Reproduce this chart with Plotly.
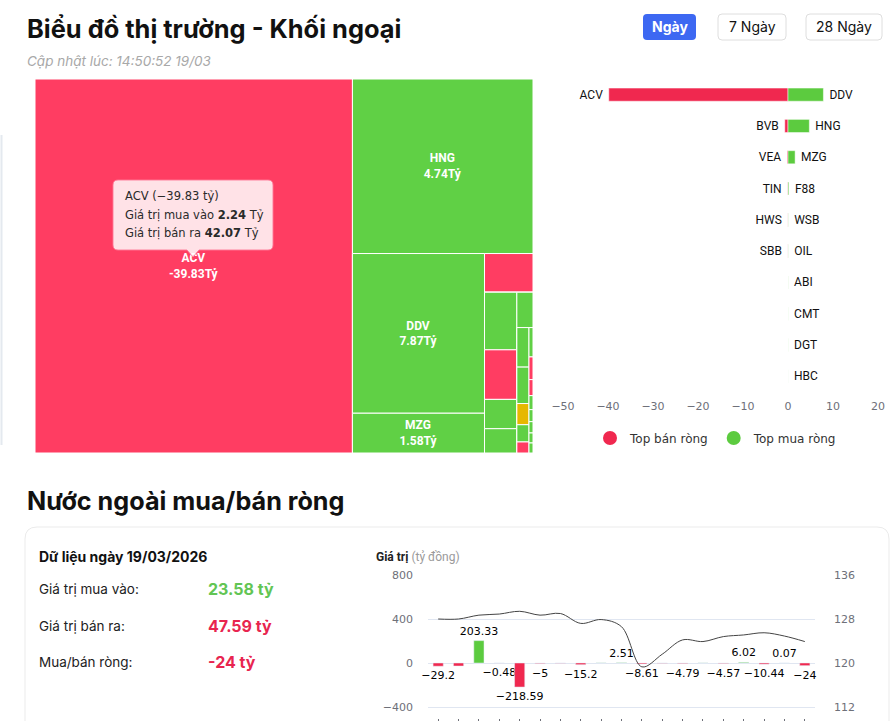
import plotly.graph_objects as go

W, H = 892, 721


def px(x):
    return x / W


def py(y):
    return 1 - y / H


# ---------------- data: treemap (size = buy + sell, tỷ) ----------------
tm_ids = ["root", "ACV", "g1", "HNG", "g2", "g3", "DDV", "MZG", "g4", "BVB", "g5",
          "g6", "F88", "VEA", "WSB", "OIL", "g7", "ABI", "g8", "g9", "CMT", "DGT",
          "VEF", "HBC", "TIN", "g10", "VGT", "HWS", "SBB", "QNS", "BSR", "MSR", "ACG", "NTC"]
tm_parents = ["", "root", "root", "g1", "g1", "g2", "g3", "g3", "g2", "g4", "g4",
              "g5", "g6", "g6", "g6", "g6", "g5", "g7", "g7", "g8", "g9", "g9",
              "g9", "g9", "g9", "g8", "g10", "g10", "g10", "g10", "g10", "g10", "g10", "g10"]
tm_size = [0, 44.31, 0, 11.76, 0, 0, 7.87, 1.96, 0, 0.70, 0,
           0, 0.695, 0.598, 0.354, 0.293, 0, 0.213, 0, 0, 0.179, 0.165,
           0.096, 0.078, 0.050, 0, 0.044, 0.034, 0.024, 0.021, 0.018, 0.017, 0.015, 0.015]
tm_net = [None, -39.83, None, 4.74, None, None, 7.87, 1.58, None, -0.72, None,
          None, 0.2, -0.2, 0.05, 0.04, None, 0.03, None, None, 0.02, 0.02,
          0.0, 0.01, -0.08, None, 0.01, -0.04, -0.03, 0.01, 0.01, 0.01, 0.01, 0.01]

acv_buy, acv_sell = 2.24, 42.07

# ---------------- data: top net sell / net buy bars ----------------
sell_names = ["ACV", "BVB", "VEA", "TIN", "HWS", "SBB"]
sell_vals = [-39.83, -0.72, -0.2, -0.08, -0.04, -0.03]
buy_names = ["DDV", "HNG", "MZG", "F88", "WSB", "OIL", "ABI", "CMT", "DGT", "HBC"]
buy_vals = [7.87, 4.74, 1.58, 0.2, 0.05, 0.04, 0.03, 0.02, 0.02, 0.01]

# ---------------- data: daily net flow ----------------
summary_date = "19/03/2026"
total_buy, total_sell, total_net = 23.58, 47.59, -24
days = ["23/02", "24/02", "25/02", "26/02", "27/02", "02/03", "03/03", "04/03", "05/03",
        "06/03", "09/03", "10/03", "11/03", "12/03", "13/03", "16/03", "17/03", "18/03", "19/03"]
net_flow = [-29.2, -27.5, 203.33, -0.48, -218.59, -5, -1.85, -15.2, 1.2,
            2.51, -8.61, -2.3, -4.79, 0.9, -4.57, 6.02, -10.44, 0.07, -24]
label_shown = [1, 0, 1, 1, 1, 1, 0, 1, 0, 1, 1, 0, 1, 0, 1, 1, 1, 1, 1]
index_line = [128.0, 128.0, 128.7, 128.9, 129.4, 128.7, 129.0, 127.2, 127.9,
              126.6, 119.3, 121.6, 124.2, 123.9, 124.8, 125.1, 125.5, 124.9, 123.9]

RED_TM, GREEN_TM, YELLOW_TM = "#ff3d62", "#60d045", "#e6b800"
RED, GREEN = "#f0284f", "#5ccb3f"


def fmt(v):
    return ("%g" % v).replace("-", "−")


fig = go.Figure()

# ---------------- treemap ----------------
tm_colors = [("white" if n is None else (RED_TM if n < 0 else (GREEN_TM if n > 0 else YELLOW_TM)))
             for n in tm_net]
tm_text = [("%s<br>%sTỷ" % (i, ("%g" % n))) if (n is not None and s >= 1) else ""
           for i, n, s in zip(tm_ids, tm_net, tm_size)]

fig.add_trace(go.Treemap(
    ids=tm_ids, labels=tm_ids, parents=tm_parents, values=tm_size,
    branchvalues="remainder", sort=False,
    tiling=dict(packing="slice-dice", pad=0),
    marker=dict(colors=tm_colors, line=dict(color="white", width=1),
                pad=dict(t=0, l=0, r=0, b=0)),
    text=tm_text, textinfo="text", textposition="middle center",
    textfont=dict(family="Roboto", size=12, color="white", weight="bold"),
    pathbar=dict(visible=False), hoverinfo="skip",
    domain=dict(x=[px(35), px(533)], y=[py(453), py(79)]),
))

# ---------------- top bars ----------------
for vals, names, col, pad in ((sell_vals, sell_names, RED, "%s "), (buy_vals, buy_names, GREEN, " %s")):
    fig.add_trace(go.Bar(
        x=vals, y=list(range(len(vals))), orientation="h",
        marker=dict(color=col, line=dict(color="white", width=0.5)), width=0.42,
        text=[pad % n for n in names], textposition="outside", cliponaxis=False, constraintext="none",
        textfont=dict(family="Roboto", size=12, color="#111"),
        showlegend=False, hoverinfo="skip", xaxis="x", yaxis="y"))
fig.add_trace(go.Scatter(x=[None], y=[None], mode="markers", name="Top bán ròng",
                         marker=dict(color=RED, size=14, symbol="circle"), xaxis="x", yaxis="y"))
fig.add_trace(go.Scatter(x=[None], y=[None], mode="markers", name="Top mua ròng",
                         marker=dict(color=GREEN, size=14, symbol="circle"), xaxis="x", yaxis="y"))

# ---------------- bottom chart ----------------
fig.add_trace(go.Bar(
    x=days, y=net_flow, marker=dict(color=[GREEN if v > 0 else RED for v in net_flow]),
    width=0.5, text=[fmt(v) if s else "" for v, s in zip(net_flow, label_shown)],
    textposition="outside", cliponaxis=False, constraintext="none",
    textfont=dict(family="DejaVu Sans", size=11, color="#000"),
    showlegend=False, hoverinfo="skip", xaxis="x2", yaxis="y2"))
fig.add_trace(go.Scatter(
    x=days, y=index_line, mode="lines", line=dict(color="#444", width=1, shape="spline", smoothing=1),
    showlegend=False, hoverinfo="skip", xaxis="x2", yaxis="y3"))

# ---------------- shapes ----------------


def rrect(x0, y0, x1, y1, r):
    X0, X1, Y0, Y1 = px(x0), px(x1), py(y0), py(y1)
    rx, ry = r / W, r / H
    return (f"M {X0+rx},{Y0} L {X1-rx},{Y0} Q {X1},{Y0} {X1},{Y0-ry} L {X1},{Y1+ry} "
            f"Q {X1},{Y1} {X1-rx},{Y1} L {X0+rx},{Y1} Q {X0},{Y1} {X0},{Y1+ry} "
            f"L {X0},{Y0-ry} Q {X0},{Y0} {X0+rx},{Y0} Z")


def tooltip_path(x0, y0, x1, y1, r, tipx, tiph):
    X0, X1, Y0, Y1 = px(x0), px(x1), py(y0), py(y1)
    rx, ry = r / W, r / H
    return (f"M {X0+rx},{Y0} L {X1-rx},{Y0} Q {X1},{Y0} {X1},{Y0-ry} L {X1},{Y1+ry} "
            f"Q {X1},{Y1} {X1-rx},{Y1} L {px(tipx+6)},{Y1} L {px(tipx)},{py(y1+tiph)} "
            f"L {px(tipx-6)},{Y1} L {X0+rx},{Y1} Q {X0},{Y1} {X0},{Y1+ry} "
            f"L {X0},{Y0-ry} Q {X0},{Y0} {X0+rx},{Y0} Z")


P = dict(xref="paper", yref="paper", type="path")
shapes = [
    dict(P, path=rrect(643, 14, 696, 40, 4), fillcolor="#3d68f2", line=dict(width=0), layer="below"),
    dict(P, path=rrect(718, 14, 786, 40, 4), fillcolor="white", line=dict(color="#dedede", width=1), layer="below"),
    dict(P, path=rrect(806, 14, 882, 40, 4), fillcolor="white", line=dict(color="#dedede", width=1), layer="below"),
    dict(P, path=rrect(25, 527, 889, 790, 12), fillcolor="white", line=dict(color="#ebebeb", width=1), layer="below"),
    dict(P, path=tooltip_path(113, 180, 273, 250, 5, 193, 7),
         fillcolor="rgba(255,255,255,0.85)", line=dict(color="rgba(255,120,150,0.9)", width=1), layer="above"),
    dict(type="line", xref="paper", yref="paper", x0=px(1.5), x1=px(1.5), y0=py(135), y1=py(445),
         line=dict(color="#e4e9ef", width=2), layer="below"),
]

ann = []


def text(x, y, t, size, color="#111", family="Inter", xanchor="left", weight="normal", style="normal"):
    ann.append(dict(x=px(x), y=py(y), xref="paper", yref="paper", text=t, showarrow=False,
                    xanchor=xanchor, yanchor="middle",
                    font=dict(family=family, size=size, color=color, weight=weight, style=style)))


text(25, 29, "Biểu đồ thị trường - Khối ngoại", 25.4, "#111", weight="bold")
text(25, 61, "Cập nhật lúc: 14:50:52 19/03", 13.5, "#a8a8a8", style="italic")
text(669.5, 27, "Ngày", 14, "white", xanchor="center", weight="bold")
text(752, 27, "7 Ngày", 14, "#111", xanchor="center")
text(844, 27, "28 Ngày", 14, "#111", xanchor="center")
text(123, 196, "ACV (%s tỷ)" % fmt(-39.83), 11.5, "#2a2a2a", family="DejaVu Sans")
text(123, 215, "Giá trị mua vào <b>%g</b> Tỷ" % acv_buy, 11.5, "#2a2a2a", family="DejaVu Sans")
text(123, 233, "Giá trị bán ra <b>%g</b> Tỷ" % acv_sell, 11.5, "#2a2a2a", family="DejaVu Sans")
text(25, 501, "Nước ngoài mua/bán ròng", 25.2, "#111", weight="bold")
text(37, 556, "Dữ liệu ngày %s" % summary_date, 14, "#111", weight="bold")
text(37, 589, "Giá trị mua vào:", 13.5, "#222")
text(37, 626, "Giá trị bán ra:", 13.5, "#222")
text(37, 662, "Mua/bán ròng:", 13.5, "#222")
text(206, 589, "%g tỷ" % total_buy, 16, "#62c554", weight="bold")
text(206, 626, "%g tỷ" % total_sell, 16, "#e8254f", weight="bold")
text(206, 662, "%g tỷ" % total_net, 16, "#e8254f", weight="bold")
text(374, 557, "<b>Giá trị</b> <span style='color:#9a9a9a'>(tỷ đồng)</span>", 12, "#222", family="Roboto")

fig.update_layout(
    width=W, height=H, margin=dict(l=0, r=0, t=0, b=0, autoexpand=False),
    paper_bgcolor="white", plot_bgcolor="rgba(0,0,0,0)",
    barmode="overlay", shapes=shapes, annotations=ann,
    legend=dict(orientation="h", x=px(716), y=py(438), xanchor="center", yanchor="middle",
                font=dict(family="DejaVu Sans", size=12, color="#333"), bgcolor="rgba(0,0,0,0)"),
    xaxis=dict(domain=[px(563), px(878)], range=[-50, 20], dtick=10, tick0=0, showgrid=False,
               zeroline=False, showline=False, ticks="", anchor="y", automargin=False,
               tickfont=dict(family="DejaVu Sans", size=11, color="#6e7079"), ticklabelstandoff=6),
    yaxis=dict(domain=[py(392), py(79)], range=[9.5, -0.5], showticklabels=False, showgrid=False,
               zeroline=False, showline=False, anchor="x", automargin=False),
    xaxis2=dict(domain=[px(428), px(815)], anchor="y2", type="category", showgrid=False,
                zeroline=False, showline=False, ticks="outside", ticklen=4, tickcolor="#6e7079",
                showticklabels=False, automargin=False),
    yaxis2=dict(domain=[py(718), py(575)], anchor="x2", range=[-500, 800], dtick=400, tick0=0,
                showgrid=True, gridcolor="#e0e6f1", zeroline=False, showline=False, automargin=False,
                tickfont=dict(family="DejaVu Sans", size=11, color="#6e7079"), ticklabelstandoff=14),
    yaxis3=dict(overlaying="y2", side="right", anchor="x2", range=[110, 136], dtick=8, tick0=120,
                showgrid=False, zeroline=False, showline=False, automargin=False,
                tickfont=dict(family="DejaVu Sans", size=11, color="#6e7079"), ticklabelstandoff=18),
)

fig.write_html("out.html")
